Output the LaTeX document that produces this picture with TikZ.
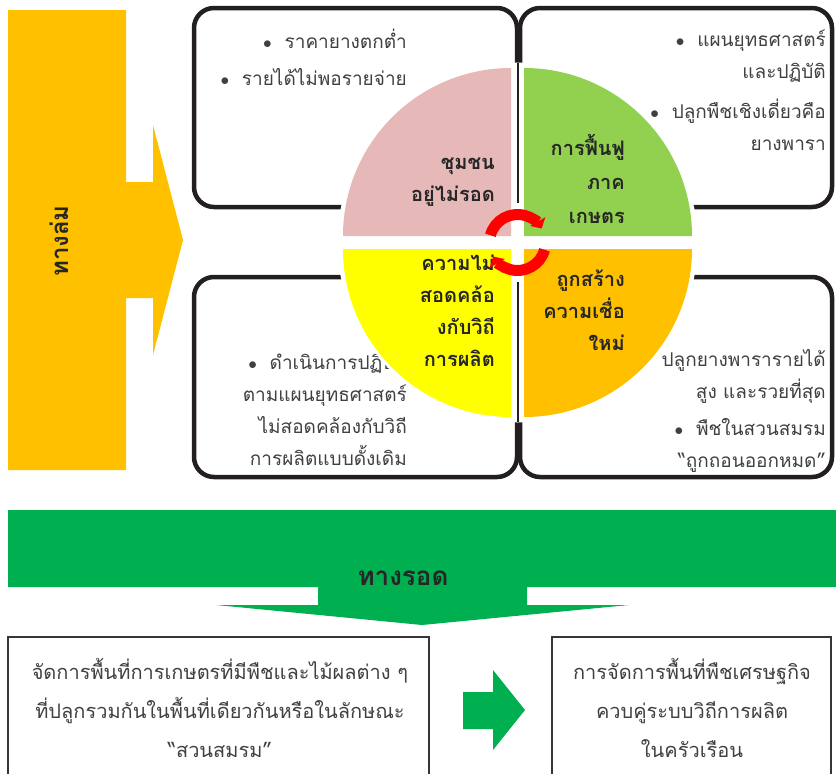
\documentclass[tikz,border=0pt]{standalone}
\usepackage{fontspec}
\setmainfont[Script=Thai]{Loma}
\usetikzlibrary{arrows.meta}
\definecolor{downfall}{RGB}{255,192,0}
\definecolor{survival}{RGB}{0,176,80}
\definecolor{quadpink}{RGB}{230,184,183}
\definecolor{quadgreen}{RGB}{146,208,80}
\definecolor{quadyellow}{RGB}{255,255,0}
\definecolor{quadorange}{RGB}{255,192,0}
\definecolor{cyclered}{RGB}{255,0,0}
\definecolor{boxline}{RGB}{35,31,32}
\definecolor{boxtext}{RGB}{64,64,64}
\tikzset{
  problembox/.style={draw=boxline, line width=4.5pt, rounded corners=20pt},
  outcomebox/.style={draw=boxline!90, line width=2pt},
  boxlabel/.style={text=boxtext, font=\fontsize{19}{32}\selectfont, align=right, anchor=east, inner sep=0pt},
  quadlabel/.style={text=black!85, font=\bfseries\fontsize{20}{32}\selectfont, align=right, anchor=east, inner sep=0pt},
  outcomelabel/.style={text=boxtext, font=\fontsize{20}{39}\selectfont, align=center, inner sep=0pt},
  cyclearrow/.style={draw=cyclered, line width=11pt, -{Triangle[length=8pt,width=17pt]}}
}
\begin{document}
\begin{tikzpicture}[x=1pt, y=-1pt]
  \useasboundingbox (0,0) rectangle (836,774);

  \fill[downfall] (8,10) -- (126,10) -- (126,182) -- (153,182) -- (153,125)
    -- (183,240) -- (153,355) -- (153,298) -- (126,298) -- (126,470) -- (8,470) -- cycle;
  \node[rotate=90, font=\bfseries\fontsize{24}{24}\selectfont, text=black!85] (collapse) at (59,241) {ทางล่ม};

  \draw[problembox] (194,8) rectangle (517,207);
  \draw[problembox] (520,8) rectangle (832,207);
  \draw[problembox] (194,277) rectangle (517,477);
  \draw[problembox] (520,277) rectangle (832,477);

  \node[boxlabel] (price) at (407,57) {$\bullet$\ \ ราคายางตกต่ำ\\[5pt] $\bullet$\ \ รายได้ไม่พอรายจ่าย};
  \node[boxlabel] (policy) at (826,90) {$\bullet$\ \ แผนยุทธศาสตร์\\ และปฏิบัติ\\[8pt] $\bullet$\ \ ปลูกพืชเชิงเดี่ยวคือ\\ ยางพารา};
  \node[boxlabel] (practice) at (407,410) {$\bullet$\ \ ดำเนินการปฏิบัติ\\ ตามแผนยุทธศาสตร์\\ ไม่สอดคล้องกับวิถี\\ การผลิตแบบดั้งเดิม};
  \node[boxlabel] (belief) at (826,411) {ปลูกยางพารารายได้\\ สูง และรวยที่สุด\\[5pt] $\bullet$\ \ พืชในสวนสมรม\\ “ถูกถอนออกหมด”};

  \coordinate (hub) at (517.5,242.5);
  \fill[white] (hub) circle[radius=180];
  \draw[boxline, line width=2pt] (518,63) -- (518,203) (518,282) -- (518,422);

  \fill[quadpink] (511,236) -- (343,236) arc[start angle=180, end angle=270, radius=168] -- cycle;
  \fill[quadgreen] (524,236) -- (524,68) arc[start angle=270, end angle=360, radius=168] -- cycle;
  \fill[quadyellow] (511,249) -- (511,417) arc[start angle=90, end angle=180, radius=168] -- cycle;
  \fill[quadorange] (524,249) -- (692,249) arc[start angle=0, end angle=90, radius=168] -- cycle;

  \node[quadlabel] (community) at (495,182) {ชุมชน\\ อยู่ไม่รอด};
  \node[quadlabel, font=\bfseries\fontsize{20}{34}\selectfont] (recovery) at (625,179) {การฟื้นฟู\\ ภาค\\ เกษตร};
  \node[quadlabel] (mismatch) at (495,311) {ความไม่\\ สอดคล้อ\\ งกับวิถี\\ การผลิต};
  \node[quadlabel] (newbelief) at (625,310) {ถูกสร้าง\\ ความเชื่อ\\ ใหม่};

  \draw[cyclearrow] (hub) ++(195:28) arc[start angle=195, end angle=330, radius=28];
  \draw[cyclearrow] (hub) ++(15:28) arc[start angle=15, end angle=150, radius=28];

  \fill[survival] (8,510) -- (836,510) -- (836,587) -- (527,587) -- (527,605) -- (629,605)
    -- (422,625) -- (216,605) -- (318,605) -- (318,587) -- (8,587) -- cycle;
  \node[font=\bfseries\fontsize{26}{26}\selectfont, text=black!85] (survive) at (403,578) {ทางรอด};

  \draw[outcomebox] (8,637) rectangle (429,790);
  \draw[outcomebox] (552,637) rectangle (831,790);
  \node[outcomelabel] (mixedgarden) at (220,708) {จัดการพื้นที่การเกษตรที่มีพืชและไม้ผลต่าง ๆ\\ ที่ปลูกรวมกันในพื้นที่เดียวกันหรือในลักษณะ\\ “สวนสมรม”};
  \node[outcomelabel] (household) at (692,708) {การจัดการพื้นที่พืชเศรษฐกิจ\\ ควบคู่ระบบวิถีการผลิต\\ ในครัวเรือน};
  \fill[survival] (463,692) -- (493,692) -- (493,670) -- (525,710) -- (493,750) -- (493,729) -- (463,729) -- cycle;
\end{tikzpicture}
\end{document}
